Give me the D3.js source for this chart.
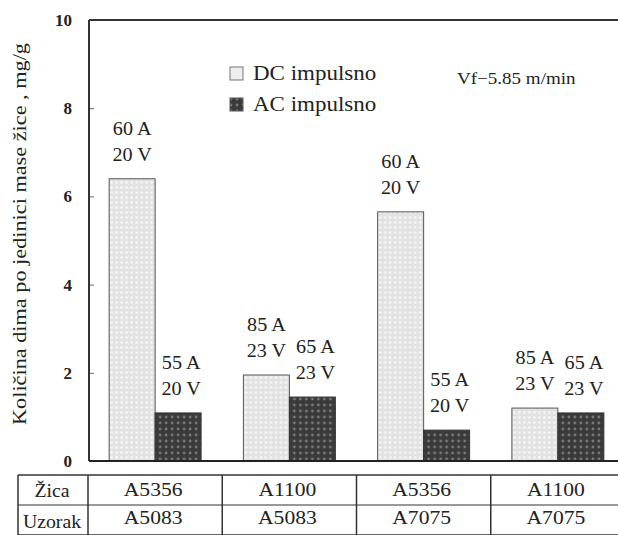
<!DOCTYPE html>
<html>
<head>
<meta charset="utf-8">
<script src="https://cdn.jsdelivr.net/npm/d3@7"></script>
<style>
  body { margin: 0; background: #fff; }
  svg text { font-family: "Liberation Serif", "Times New Roman", serif; fill: #222; }
</style>
</head>
<body>
<div id="chart"></div>
<script>
var groups = ['g1', 'g2', 'g3', 'g4'];
var series = ['DC', 'AC'];
var dcValues = [6.4, 1.95, 5.65, 1.2];
var acValues = [1.09, 1.45, 0.70, 1.09];
var dcLabels = [['60 A', '20 V'], ['85 A', '23 V'], ['60 A', '20 V'], ['85 A', '23 V']];
var acLabels = [['55 A', '20 V'], ['65 A', '23 V'], ['55 A', '20 V'], ['65 A', '23 V']];
var zica = ['A5356', 'A1100', 'A5356', 'A1100'];
var uzorak = ['A5083', 'A5083', 'A7075', 'A7075'];
var yTicks = [0, 2, 4, 6, 8, 10];

var w = 618, h = 535;
var serif = '"Liberation Serif", "Times New Roman", serif';
var svg = d3.select('#chart').append('svg')
    .attr('width', w)
    .attr('height', h);

// scanned text is wider than Times, so stretch it a bit
function stext(parent, px, py, str, size, anchor, sx) {
    return parent.append('text')
        .attr('transform', 'translate(' + px + ',' + py + ') scale(' + sx + ',1)')
        .attr('text-anchor', anchor)
        .style('font-family', serif)
        .style('font-size', size + 'px')
        .text(str);
}

// patterns, roughly like the scanned hatching
var defs = svg.append('defs');
var pDC = defs.append('pattern').attr('id', 'pdc')
    .attr('patternUnits', 'userSpaceOnUse').attr('width', 5).attr('height', 5);
pDC.append('rect').attr('width', 5).attr('height', 5).attr('fill', '#e2e2e2');
pDC.append('circle').attr('cx', 2.5).attr('cy', 2.5).attr('r', 1.3).attr('fill', '#f8f8f8');
var pAC = defs.append('pattern').attr('id', 'pac')
    .attr('patternUnits', 'userSpaceOnUse').attr('width', 6).attr('height', 6);
pAC.append('rect').attr('width', 6).attr('height', 6).attr('fill', '#3a3a3a');
pAC.append('circle').attr('cx', 3).attr('cy', 3).attr('r', 1.4).attr('fill', '#7a7a7a');

var x = d3.scaleBand().domain(groups).range([88, 625])
    .paddingInner(0.315).paddingOuter(0.1575);
var xs = d3.scaleBand().domain(series).range([0, x.bandwidth()]);
var y = d3.scaleLinear().domain([0, 10]).range([461, 20]);

var rows = groups.map(function (g, i) {
    return { g: g, i: i, DC: dcValues[i], AC: acValues[i], DCl: dcLabels[i], ACl: acLabels[i] };
});

// bars
var gBars = svg.selectAll('g.grp').data(rows).enter().append('g')
    .attr('class', 'grp')
    .attr('transform', function (d) { return 'translate(' + x(d.g) + ',0)'; });

gBars.selectAll('rect').data(function (d) {
    return series.map(function (s) { return { s: s, v: d[s], lab: d[s + 'l'] }; });
}).enter().append('rect')
    .attr('x', function (d) { return xs(d.s); })
    .attr('y', function (d) { return y(d.v); })
    .attr('width', xs.bandwidth())
    .attr('height', function (d) { return y(0) - y(d.v); })
    .attr('fill', function (d) { return d.s === 'DC' ? 'url(#pdc)' : 'url(#pac)'; })
    .attr('stroke', function (d) { return d.s === 'DC' ? '#555' : '#333'; })
    .attr('stroke-width', 1);

// labels above bars
gBars.selectAll('g.lab').data(function (d) {
    return series.map(function (s) { return { s: s, v: d[s], lab: d[s + 'l'] }; });
}).enter().append('g').attr('class', 'lab')
    .each(function (d) {
        var cx = xs(d.s) + xs.bandwidth() / 2 + (d.s === 'AC' ? 3 : 0);
        var t = d3.select(this);
        stext(t, cx, y(d.v) - 44, d.lab[0], 18, 'middle', 1.12);
        stext(t, cx, y(d.v) - 18, d.lab[1], 18, 'middle', 1.12);
    });

// axis
var yAxis = d3.axisLeft(y).tickValues(yTicks).tickSize(-5).tickPadding(17);
var ga = svg.append('g').attr('transform', 'translate(89,0)').call(yAxis);
ga.select('.domain').remove();
ga.selectAll('line').attr('stroke', '#666');
ga.selectAll('text').style('font-size', '17px').style('font-weight', 'bold')
    .style('font-family', serif).attr('fill', '#444');

// frame lines
svg.append('line').attr('x1', 89).attr('x2', 89).attr('y1', y(10)).attr('y2', y(0))
    .attr('stroke', '#333').attr('stroke-width', 2);
svg.append('line').attr('x1', 89).attr('x2', w).attr('y1', y(10)).attr('y2', y(10))
    .attr('stroke', '#333').attr('stroke-width', 2);
svg.append('line').attr('x1', 89).attr('x2', w).attr('y1', y(0)).attr('y2', y(0))
    .attr('stroke', '#222').attr('stroke-width', 2);

// y title
svg.append('text')
    .attr('transform', 'translate(26,' + 234 + ') rotate(-90)')
    .attr('text-anchor', 'middle')
    .attr('textLength', 382)
    .attr('lengthAdjust', 'spacingAndGlyphs')
    .style('font-family', serif)
    .style('font-size', '19px')
    .text('Količina dima po jedinici mase žice , mg/g');

// legend
var legend = [{ s: 'DC', t: 'DC impulsno', yy: 73 }, { s: 'AC', t: 'AC impulsno', yy: 104 }];
legend.forEach(function (d) {
    svg.append('rect').attr('x', 230).attr('y', d.yy - 6).attr('width', 13).attr('height', 13)
        .attr('fill', d.s === 'DC' ? '#eee' : 'url(#pac)')
        .attr('stroke', d.s === 'DC' ? '#777' : '#555');
    stext(svg, 253, d.yy + 7, d.t, 20, 'start', 1.15);
});
stext(svg, 457, 84, 'Vf−5.85 m/min', 17, 'start', 1.12);

// table below
var tTop = 475, tMid = 505, tBot = 535;
var bounds = groups.map(function (g) { return x(g) - x.paddingOuter() * x.step(); });
var tbl = svg.append('g').attr('stroke', '#333').attr('stroke-width', 1.5);
tbl.append('line').attr('x1', 18).attr('x2', w).attr('y1', tTop).attr('y2', tTop);
tbl.append('line').attr('x1', 18).attr('x2', w).attr('y1', tMid).attr('y2', tMid).attr('stroke', '#777');
tbl.append('line').attr('x1', 18).attr('x2', w).attr('y1', tBot).attr('y2', tBot);
tbl.append('line').attr('x1', 18).attr('x2', 18).attr('y1', tTop).attr('y2', tBot);
tbl.selectAll('line.v').data(bounds).enter().append('line')
    .attr('class', 'v')
    .attr('x1', function (d) { return d; }).attr('x2', function (d) { return d; })
    .attr('y1', tTop).attr('y2', tBot);

stext(svg, 52, 497, 'Žica', 18, 'middle', 1.1);
stext(svg, 52, 528, 'Uzorak', 18, 'middle', 1.1);
groups.forEach(function (g, i) {
    var cx = x(g) + x.bandwidth() / 2 - 2;
    stext(svg, cx, 496, zica[i], 18, 'middle', 1.2);
    stext(svg, cx, 524, uzorak[i], 18, 'middle', 1.2);
});
</script>
</body>
</html>
